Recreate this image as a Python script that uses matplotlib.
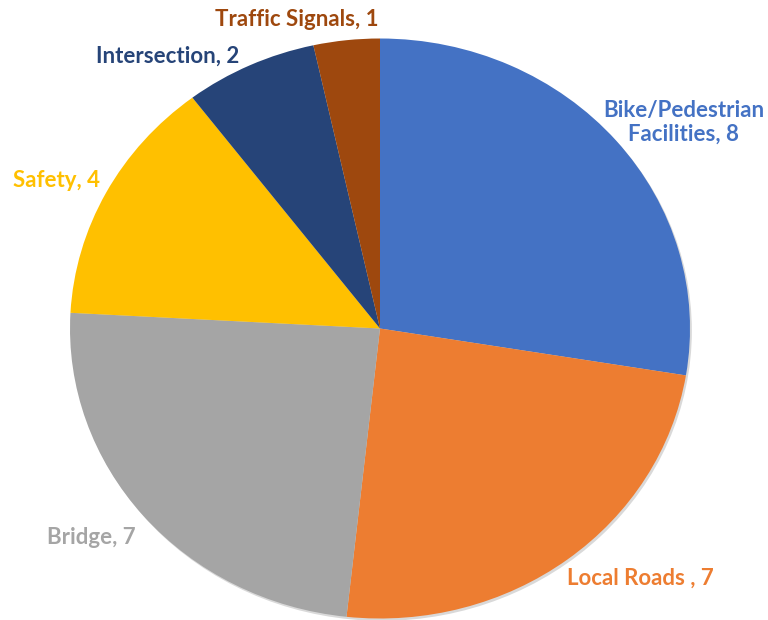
import matplotlib.pyplot as plt
from matplotlib.patches import Circle

categories = ["Bike/Pedestrian\nFacilities", "Local Roads ", "Bridge", "Safety", "Intersection", "Traffic Signals"]
counts = [8, 7, 7, 4, 2, 1]
colors = ["#4472C4", "#ED7D31", "#A5A5A5", "#FFC000", "#264478", "#9E480E"]

# label positions (pie radius = 1 in data units)
label_pos = [(0.98, 0.71), (0.84, -0.86), (-0.93, -0.72), (-1.045, 0.51), (-0.685, 0.94), (-0.27, 1.064)]

fig = plt.figure(figsize=(7.68, 6.2), dpi=100)
ax = fig.add_axes([0, 0, 1, 1])

# faint drop shadow behind the pie
ax.add_patch(Circle((0.006, -0.008), 1.0, color="#d9d9d9", zorder=0, linewidth=0))

wedges, _ = ax.pie(counts, colors=colors, startangle=90, counterclock=False,
                   radius=1, wedgeprops=dict(linewidth=0))

for name, n, c, (x, y) in zip(categories, counts, colors, label_pos):
    ax.text(x, y, f"{name}, {n}", color=c, ha="center", va="center",
            fontsize=16, fontweight="bold", family="Lato", linespacing=1.15)

ax.set_aspect("auto")
ax.set_xlim(-380 / 310, 388 / 310)
ax.set_ylim(-291.5 / 290, 328.5 / 290)
ax.axis("off")

fig.savefig("out.png", dpi=100)
